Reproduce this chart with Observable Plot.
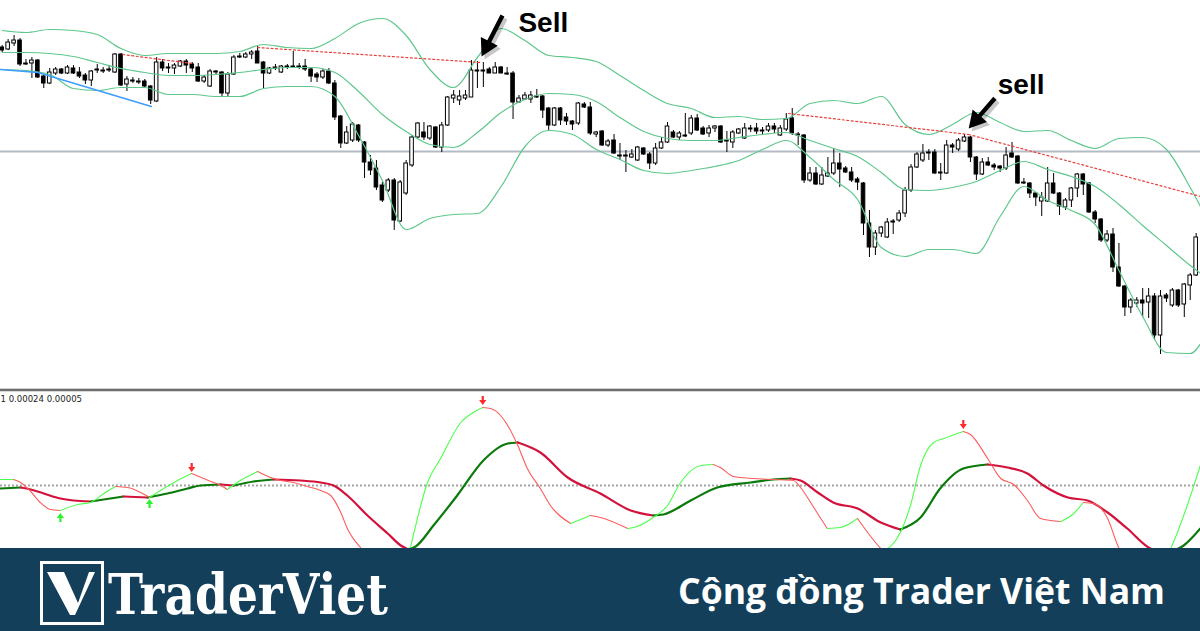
<!DOCTYPE html>
<html>
<head>
<meta charset="utf-8">
<script src="https://cdn.jsdelivr.net/npm/d3@7"></script>
<script src="https://cdn.jsdelivr.net/npm/@observablehq/plot@0.6"></script>
<style>
  html, body { margin: 0; padding: 0; background: #fff; overflow: hidden; }
  #page { position: relative; width: 1200px; height: 631px; overflow: hidden; background: #fff; }
  #price { position: absolute; left: 0; top: 0; }
  #sep { position: absolute; left: 0; top: 388px; width: 1200px; height: 4px;
         background: linear-gradient(#cfcfcf 0 1px, #6e6e6e 1px 3px, #d8d8d8 3px 4px); }
  #osc { position: absolute; left: 0; top: 392px; }
  #footer { position: absolute; left: 0; top: 548px; width: 1200px; height: 83px; background: #133f5a; }
  #footer svg { display: block; }
</style>
</head>
<body>
<div id="page">
  <div id="price"></div>
  <div id="sep"></div>
  <div id="osc"></div>
  <div id="footer">
    <svg width="1200" height="83" viewBox="0 0 1200 83">
      <rect x="41.5" y="14.5" width="61" height="61" fill="none" stroke="#fff" stroke-width="3"/>
      <path d="M47 24 L64 24 L78 55 L89 24 L95 24 L75 67 L70 67 Z" fill="#fff"/>
      <text id="brand" x="108" y="66" fill="#fff" font-family="DejaVu Serif" font-weight="700"
            font-size="56" textLength="280" lengthAdjust="spacingAndGlyphs">TraderViet</text>
      <text id="slogan" x="678" y="56" fill="#fff" font-family="Open Sans" font-weight="700"
            font-size="35" textLength="487" lengthAdjust="spacingAndGlyphs">Cộng đồng Trader Việt Nam</text>
    </svg>
  </div>
</div>
<script>
// ---- Price bars (one entry per bar, price in points) ----
const open = [
  353,351,357,360,337,337,340,324,317,327,
  331,327,332,328,325,320,330,330,331,328,
  346,316,319,319,319,314,299,338,333,332,
  334,339,336,333,319,314,329,328,307,326,
  344,343,346,349,338,327,333,328,334,334,
  334,334,331,326,323,329,317,284,257,260,
  275,258,238,232,215,210,220,179,207,235,
  263,268,262,273,253,275,302,300,302,303,
  330,330,331,327,333,327,327,298,301,301,
  304,304,292,275,292,283,279,277,296,293,
  266,269,255,260,245,245,243,240,252,246,
  237,252,258,268,263,265,267,282,272,267,
  272,274,260,258,267,262,272,272,270,270,
  274,265,271,282,266,265,220,227,216,224,
  227,237,232,228,221,217,177,153,167,163,
  179,180,187,210,233,240,248,248,228,227,
  255,251,259,263,243,226,238,235,234,232,
  247,244,218,217,207,199,199,217,207,193,
  200,212,226,217,188,181,160,166,133,114,
  93,97,100,98,104,65,105,95,110,96,
  115,125
];
const high = [
  355,361,365,362,341,343,341,326,332,333,
  332,335,335,333,327,330,336,333,335,347,
  347,324,323,322,321,315,343,341,337,337,
  340,341,338,337,325,331,330,329,328,345,
  347,348,350,354,339,333,336,335,336,349,
  337,341,332,328,331,332,320,285,274,278,
  276,259,245,240,218,222,222,220,240,265,
  278,278,275,274,278,304,310,310,310,340,
  339,338,333,338,334,333,329,305,308,309,
  311,305,293,293,293,287,280,298,298,298,
  269,270,261,266,257,250,251,254,253,248,
  257,263,278,270,269,287,285,286,274,275,
  275,275,269,270,272,277,275,277,273,277,
  277,275,287,292,268,266,233,233,233,243,
  252,247,234,233,223,218,190,170,174,182,
  181,190,213,236,248,256,251,251,237,260,
  257,262,266,264,244,242,243,237,235,253,
  258,245,222,218,208,208,233,227,208,202,
  213,227,227,218,190,182,170,172,157,115,
  102,103,112,112,107,110,107,112,111,117,
  127,167
];
const low = [
  348,350,354,334,335,322,322,312,316,325,
  326,326,326,322,316,314,327,327,328,327,
  314,309,317,316,313,296,298,329,327,326,
  333,327,328,318,317,313,326,303,303,325,
  342,342,341,337,312,326,330,327,331,332,
  331,329,318,318,321,316,280,252,256,258,
  258,222,225,210,198,208,170,178,205,233,
  262,260,260,252,248,274,297,295,300,303,
  312,313,327,327,327,325,281,297,300,297,
  302,282,270,274,275,275,270,275,292,265,
  263,254,253,246,240,228,242,239,245,231,
  235,251,257,262,260,263,265,269,265,263,
  268,257,248,252,266,261,268,266,265,268,
  267,264,269,265,255,217,218,215,215,223,
  225,213,227,218,210,165,143,145,163,162,
  166,178,183,208,232,238,240,226,220,226,
  247,249,258,238,220,225,234,230,228,230,
  242,216,216,202,194,184,198,206,185,190,
  193,203,205,187,177,158,158,128,113,84,
  87,93,83,82,60,46,98,93,93,83,
  100,124
];
const close = [
  350,358,360,336,336,340,323,317,328,331,
  327,333,327,324,320,329,331,329,330,346,
  315,321,320,318,314,300,338,332,332,335,
  339,335,332,319,323,329,328,307,326,343,
  343,346,348,337,327,332,332,334,333,333,
  333,331,324,323,329,317,283,257,268,276,
  260,238,230,213,200,220,180,218,237,263,
  277,263,274,253,275,303,305,304,305,330,
  329,329,327,333,327,326,298,302,305,305,
  303,290,275,292,280,279,276,297,293,267,
  268,255,259,247,244,244,246,253,246,237,
  252,258,274,263,267,264,282,270,266,272,
  274,258,259,268,271,272,271,269,269,274,
  271,272,281,267,265,220,227,216,225,227,
  237,231,228,220,218,177,153,167,173,178,
  178,187,210,233,246,247,247,227,227,255,
  253,260,263,243,226,238,235,233,232,245,
  243,217,217,207,203,203,217,207,194,200,
  212,226,216,188,181,160,166,133,114,93,
  100,100,97,104,65,104,102,110,95,116,
  125,163
];

// ---- Bollinger bands, read every 4 bars ----
const bandBars = [0,4,8,12,16,20,24,28,32,36,40,44,48,52,56,60,64,68,72,76,80,84,88,92,96,
  100,104,108,112,116,120,124,128,132,136,140,144,148,152,156,160,164,168,172,176,180,184,188,192,196,200,202];
const bandUpper = [370,368,371,370,366,352,345,347,347,347,349,356,353,352,362,377,382,365,331,313,343,372,360,345,343,
  339,325,310,297,292,283,284,281,282,297,300,297,304,276,266,276,288,278,269,270,260,252,262,263,251,213,191];
const bandMiddle = [348,348,347,344,338,332,328,325,325,326,328,331,333,333,328,309,286,269,256,253,268,288,301,307,306,
  299,283,269,262,260,260,263,266,268,260,252,244,228,211,210,213,219,230,239,231,224,214,196,175,155,135,126];
const bandLower = [331,330,326,312,310,313,313,306,306,304,304,312,314,314,304,265,220,171,182,186,187,214,254,270,266,
  251,241,230,227,230,234,240,251,260,243,221,201,153,144,151,151,147,184,214,200,190,176,130,84,48,47,59];

// ---- Hand-drawn lines: [bar, price] ----
const resistanceLines = [
  [[20.3, 346], [32.0, 337]],
  [[43.0, 353], [80.5, 338]],
  [[132.4, 287], [162.7, 266]],
  [[162.7, 266], [201.8, 204]]
];
const supportLine = [[-0.3, 331], [6.0, 328], [25.1, 294]];
const levelPrice = 249;

// Annotations: arrow tip [bar, price], direction (deg), length (px); label position
const sellCalls = [
  {tipBar: 80.7, tipPrice: 344, angle: 207, len: 46, label: "Sell", labelBar: 86.9, labelPrice: 377},
  {tipBar: 162.7, tipPrice: 272, angle: 221, len: 40, label: "sell", labelBar: 167.6, labelPrice: 315}
];

// ---- Oscillator: [bar, value] (fast and slow lines) ----
const fastLine = [[-0.3,6],[1.9,6],[3.1,3],[4.8,-6],[6.4,-17],[8.1,-24],[9.8,-25],[12.7,-19],[14.9,-17],[17.1,-8],
  [19.1,-1],[21.1,-2],[23.3,-7],[24.8,-12],[27.2,-3],[29.5,5],[31.9,12],[33.9,7],[35.6,3],[36.8,0],[37.9,-4],
  [40.1,5],[43.0,14],[45.2,8],[46.9,5],[49.0,3],[51.4,-1],[53.6,-5],[55.3,-10],[57.0,-27],[58.1,-43],[60.3,-62],
  [64.5,-77],[67.1,-73],[68.7,-62],[69.2,-50],[71.6,3],[73.8,27],[77.2,63],[79.3,73],[80.9,78],[82.2,77],[83.9,70],
  [85.1,60],[86.8,40],[88.4,17],[90.6,-3],[92.3,-20],[95.7,-38],[99.0,-30],[100.7,-32],[105.3,-43],[106.3,-42],
  [109.6,-32],[112.0,-20],[114.2,3],[117.6,20],[119.7,21],[120.9,18],[123.1,9],[126.5,7],[129.8,6],[133.2,5],
  [134.4,-2],[136.1,-17],[137.8,-33],[138.9,-43],[141.1,-42],[144.0,-33],[145.7,-47],[147.9,-63],[148.4,-66],
  [151.2,-47],[152.9,-20],[154.6,20],[156.8,43],[158.5,47],[161.8,54],[163.0,51],[165.9,27],[168.1,7],[170.3,1],
  [172.6,-15],[174.8,-33],[178.2,-36],[180.4,-28],[182.0,-17],[183.7,-18],[186.1,-33],[187.8,-60],[191.6,-87],
  [195.0,-80],[196.7,-63],[199.5,-20],[201.7,20]];
const slowLine = [[-0.3,-3],[3.1,-2],[4.8,-4],[7.0,-8],[9.8,-13],[12.0,-15],[14.9,-16],[18.2,-13],[20.4,-11],
  [24.5,-12],[27.8,-8],[31.2,-3],[33.4,0],[36.8,1],[39.0,0],[42.3,4],[45.7,6],[50.2,5],[53.6,3],[55.8,0],
  [58.1,-10],[61.5,-30],[64.9,-48],[67.1,-60],[68.4,-64],[69.6,-61],[72.6,-40],[76.6,-10],[81.0,25],[85.1,42],
  [86.8,43],[90.6,33],[95.2,8],[100.7,-8],[105.8,-25],[109.6,-30],[111.3,-29],[115.9,-15],[120.4,-2],[126.0,3],
  [129.8,6],[132.7,7],[134.4,5],[137.3,-7],[139.9,-17],[144.0,-23],[147.9,-37],[151.2,-44],[154.6,-32],[157.9,-3],
  [161.8,17],[165.9,21],[169.2,18],[172.6,12],[175.3,0],[179.4,-12],[182.7,-15],[186.1,-27],[189.4,-43],
  [193.3,-63],[196.2,-67],[198.9,-60],[201.7,-43]];
// Turning-point signals on the fast line
const signals = [
  {bar: 9.8, value: -32, dir: "up"},
  {bar: 24.8, value: -18, dir: "up"},
  {bar: 31.9, value: 18, dir: "down"},
  {bar: 80.9, value: 85, dir: "down"},
  {bar: 161.8, value: 61, dir: "down"}
];
const oscLabel = "1 0.00024 0.00005";

// ---- Colours ----
const bandColor = "#5ec78c";
const fastUp = "#4cff4c", fastDown = "#ff5a5a";
const slowUp = "#0a7a0a", slowDown = "#d3123c";

// ---- Derived tables ----
const bars = open.map((o, i) => ({i, open: o, high: high[i], low: low[i], close: close[i]}));
const bands = bandBars.map((b, k) => ({bar: b, upper: bandUpper[k], middle: bandMiddle[k], lower: bandLower[k]}));
const resistanceRows = resistanceLines.flatMap((seg, s) => seg.map(([bar, price]) => ({seg: s, bar, price})));
const supportRows = supportLine.map(([bar, price]) => ({bar, price}));

// split a line into runs of rising / falling values so each run gets its own colour
function directionRuns(points) {
  const rows = [];
  let run = 0, prev = null;
  for (let k = 1; k < points.length; k++) {
    const [b0, v0] = points[k - 1], [b1, v1] = points[k];
    const dir = v1 > v0 ? 1 : v1 < v0 ? -1 : (prev ?? 1);
    if (dir !== prev) { run++; rows.push({bar: b0, value: v0, run, dir}); prev = dir; }
    rows.push({bar: b1, value: v1, run, dir});
  }
  return rows;
}

// filled arrow: shaft plus triangular head, pointing "up" before rotation
function solidArrow(head, wing, shaft) {
  return {
    draw(context, length) {
      const b = -length + head;
      context.moveTo(-shaft, 0);
      context.lineTo(shaft, 0);
      context.lineTo(shaft, b);
      context.lineTo(wing, b);
      context.lineTo(0, -length);
      context.lineTo(-wing, b);
      context.lineTo(-shaft, b);
      context.closePath();
    }
  };
}
const bigArrow = solidArrow(17, 9.5, 2.2);
const smallArrow = solidArrow(5, 3.6, 1.1);

const xDomain = [-0.286, 201.73];

// ---- Price panel ----
const pricePlot = Plot.plot({
  width: 1200,
  height: 388,
  margin: 0,
  x: {domain: xDomain, axis: null},
  y: {domain: [12, 400], axis: null},
  style: {background: "#fff"},
  marks: [
    Plot.ruleY([levelPrice], {stroke: "#b3bcc6", strokeWidth: 2}),
    Plot.ruleX(bars, {x: "i", y1: "low", y2: "high", stroke: "#000", strokeWidth: 1}),
    Plot.rect(bars.filter(d => d.close >= d.open), {
      x1: d => d.i - 0.3, x2: d => d.i + 0.3, y1: "open", y2: "close",
      fill: "#fff", stroke: "#000", strokeWidth: 1
    }),
    Plot.rect(bars.filter(d => d.close < d.open), {
      x1: d => d.i - 0.3, x2: d => d.i + 0.3, y1: "open", y2: "close",
      fill: "#000", stroke: "#000", strokeWidth: 1
    }),
    Plot.line(bands, {x: "bar", y: "upper", stroke: bandColor, strokeWidth: 1.2, curve: "monotone-x", clip: true}),
    Plot.line(bands, {x: "bar", y: "middle", stroke: bandColor, strokeWidth: 1.2, curve: "monotone-x", clip: true}),
    Plot.line(bands, {x: "bar", y: "lower", stroke: bandColor, strokeWidth: 1.2, curve: "monotone-x", clip: true}),
    Plot.line(resistanceRows, {x: "bar", y: "price", z: "seg", stroke: "#e8403a", strokeWidth: 1.2,
      strokeDasharray: "2,2.5", clip: true}),
    Plot.line(supportRows, {x: "bar", y: "price", stroke: "#3d9cff", strokeWidth: 1.5, clip: true}),
    ...sellCalls.flatMap(c => [
      Plot.vector([c], {x: "tipBar", y: "tipPrice", rotate: c.angle, length: c.len, anchor: "end",
        shape: bigArrow, fill: "#000", fillOpacity: 0.22, stroke: "none", dx: 3, dy: 3}),
      Plot.vector([c], {x: "tipBar", y: "tipPrice", rotate: c.angle, length: c.len, anchor: "end",
        shape: bigArrow, fill: "#000", stroke: "none"})
    ]),
    Plot.text(sellCalls, {x: "labelBar", y: "labelPrice", text: "label", textAnchor: "start",
      fontFamily: "Liberation Sans, Arial, sans-serif", fontWeight: "bold", fontSize: 28, fill: "#000"})
  ]
});
document.getElementById("price").append(pricePlot);

// ---- Oscillator panel ----
const oscPlot = Plot.plot({
  width: 1200,
  height: 156,
  margin: 0,
  x: {domain: xDomain, axis: null},
  y: {domain: [-63, 93], axis: null},
  color: {type: "identity"},
  style: {background: "#fff"},
  marks: [
    Plot.ruleY([0], {stroke: "#a3a3a3", strokeWidth: 2, strokeDasharray: "2,2"}),
    Plot.line(directionRuns(slowLine), {x: "bar", y: "value", z: "run",
      stroke: d => d.dir > 0 ? slowUp : slowDown, strokeWidth: 2.2, curve: "monotone-x", clip: true}),
    Plot.line(directionRuns(fastLine), {x: "bar", y: "value", z: "run",
      stroke: d => d.dir > 0 ? fastUp : fastDown, strokeWidth: 1.1, curve: "monotone-x", clip: true}),
    Plot.vector(signals.filter(d => d.dir === "up"), {x: "bar", y: "value", rotate: 0, length: 9,
      anchor: "middle", shape: smallArrow, fill: "#2cf22c", stroke: "none"}),
    Plot.vector(signals.filter(d => d.dir === "down"), {x: "bar", y: "value", rotate: 180, length: 9,
      anchor: "middle", shape: smallArrow, fill: "#ff2a2a", stroke: "none"}),
    Plot.text([oscLabel], {frameAnchor: "top-left", textAnchor: "start", lineAnchor: "top", dx: 0, dy: 2.5,
      fontFamily: "DejaVu Sans Condensed, DejaVu Sans, sans-serif", fontSize: 9.5, fill: "#222"})
  ]
});
document.getElementById("osc").append(oscPlot);
</script>
</body>
</html>
